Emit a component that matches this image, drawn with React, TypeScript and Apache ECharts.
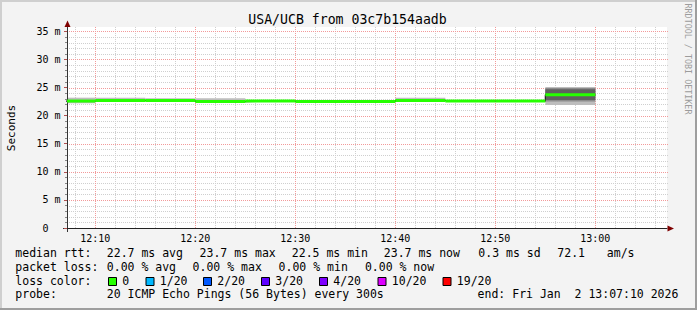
import React, { useEffect, useRef } from 'react';
import * as echarts from 'echarts';

const FONT = '"DejaVu Sans Mono", "Liberation Mono", monospace';

// ---- texts ----
const titleText = 'USA/UCB from 03c7b154aadb';
const yAxisTitle = 'Seconds';
const watermarkText = 'RRDTOOL / TOBI OETIKER';

// ---- axes ----
const xRange = ['12:07:10', '13:07:10'];
const xMajorTicks = ['12:10', '12:20', '12:30', '12:40', '12:50', '13:00'];
const yMajorTicks = [0, 5, 10, 15, 20, 25, 30, 35];
const yMax = 35.78;

// ---- data (5 minute steps, value held for the interval starting at the time) ----
const intervalStarts = ['12:05', '12:10', '12:15', '12:20', '12:25', '12:30', '12:35', '12:40', '12:45', '12:50', '12:55'];
const intervalEnd = '13:00';
const medianRtt = [22.6, 22.7, 22.7, 22.5, 22.6, 22.5, 22.5, 22.7, 22.6, 22.6, 23.7];
const smokeOuterLo = [22.2, 22.6, 22.6, 22.6, 22.5, 22.5, 22.5, 22.6, 22.5, 22.5, 21.9];
const smokeOuterHi = [23.2, 23.2, 23.1, 23.1, 22.8, 22.8, 22.8, 23.2, 22.8, 22.8, 25.1];
const smokeMidLo = [null, null, null, null, null, null, null, null, null, null, 22.5];
const smokeMidHi = [null, null, null, null, null, null, null, null, null, null, 24.9];
const smokeInnerLo = [null, null, null, null, null, null, null, null, null, null, 22.8];
const smokeInnerHi = [null, null, null, null, null, null, null, null, null, null, 24.7];

// ---- legend ----
const rttStats = ['22.7 ms avg', '23.7 ms max', '22.5 ms min', '23.7 ms now', '0.3 ms sd', '72.1', 'am/s'];
const lossStats = ['0.00 % avg', '0.00 % max', '0.00 % min', '0.00 % now'];
const lossLabels = ['0', '1/20', '2/20', '3/20', '4/20', '10/20', '19/20'];
const lossColors = ['#26ff00', '#00b8ff', '#0059ff', '#5e00ff', '#7e00ff', '#dd00ff', '#ff0000'];
const probeText = '20 ICMP Echo Pings (56 Bytes) every 300s';
const endText = 'end: Fri Jan\u00a0\u00a02 13:07:10 2026';

// layout positions for legend items
const rttX = [107.5, 200.3, 292.5, 384.5, 479, 558, 607.5];
const lossX = [107.5, 193.3, 279.3, 365.6];
const boxX = [108, 145.5, 203, 261, 319, 377.5, 442.5];

const toMin = (s: string) => {
  const p = s.split(':').map(Number);
  return p[0] * 60 + p[1] + (p[2] || 0) / 60;
};
const fmtMin = (v: number) => {
  const h = Math.floor(v / 60);
  const m = Math.round(v - h * 60);
  return `${String(h).padStart(2, '0')}:${String(m).padStart(2, '0')}`;
};

const xMin = toMin(xRange[0]);
const xMax = toMin(xRange[1]);
const xMajorVals = xMajorTicks.map(toMin);
const xMinorVals: number[] = [];
for (let t = Math.ceil(xMin / 2) * 2; t <= xMax; t += 2) {
  if (t % 10 !== 0) xMinorVals.push(t);
}
const yMinorVals: number[] = [];
for (let v = 1; v <= 35; v++) if (v % 5 !== 0) yMinorVals.push(v);

const STEP = 5;
const MAJOR_COLOR = '#f29a9a';
const MINOR_COLOR = '#cfcfcf';

// grid lines drawn through the axis scales
function gridLines(vals: number[], dir: 'h' | 'v', color: string, z: number) {
  return {
    type: 'custom',
    coordinateSystem: 'cartesian2d',
    silent: true,
    z,
    encode: { x: 0, y: 1 },
    data: vals.map((v) => (dir === 'h' ? [xMin, v] : [v, 0])),
    renderItem: (params: any, api: any) => {
      const p = api.coord([api.value(0), api.value(1)]);
      const cs = params.coordSys;
      if (dir === 'h') {
        const y = Math.round(p[1]) + 0.5;
        return {
          type: 'line',
          shape: { x1: cs.x, y1: y, x2: cs.x + cs.width + 1, y2: y },
          style: { stroke: color, lineWidth: 1, lineDash: [1, 1] },
        };
      }
      const x = Math.floor(p[0]) + 0.5;
      return {
        type: 'line',
        shape: { x1: x, y1: cs.y, x2: x, y2: cs.y + cs.height },
        style: { stroke: color, lineWidth: 1, lineDash: [1, 1] },
      };
    },
  };
}

function bandSeries(lo: (number | null)[], hi: (number | null)[], color: string, z: number) {
  const data = intervalStarts
    .map((s, i) => (lo[i] == null || hi[i] == null ? null : [toMin(s), toMin(s) + STEP, lo[i], hi[i]]))
    .filter((d) => d !== null);
  return {
    type: 'custom',
    coordinateSystem: 'cartesian2d',
    silent: true,
    z,
    encode: { x: [0, 1], y: [2, 3] },
    data,
    renderItem: (params: any, api: any) => {
      const a = api.coord([api.value(0), api.value(3)]);
      const b = api.coord([api.value(1), api.value(2)]);
      const cs = params.coordSys;
      const x0 = Math.max(a[0], cs.x);
      const x1 = Math.min(b[0], cs.x + cs.width);
      if (x1 <= x0) return null;
      return {
        type: 'rect',
        shape: { x: x0, y: a[1], width: x1 - x0, height: b[1] - a[1] },
        style: { fill: color },
      };
    },
  };
}

const medianBand = {
  type: 'custom',
  coordinateSystem: 'cartesian2d',
  silent: true,
  z: 5,
  encode: { x: [0, 1], y: 2 },
  data: intervalStarts.map((s, i) => [toMin(s), toMin(s) + STEP, medianRtt[i]]),
  renderItem: (params: any, api: any) => {
    const a = api.coord([api.value(0), api.value(2)]);
    const b = api.coord([api.value(1), api.value(2)]);
    const cs = params.coordSys;
    const x0 = Math.max(a[0], cs.x);
    const x1 = Math.min(b[0], cs.x + cs.width);
    if (x1 <= x0) return null;
    return {
      type: 'rect',
      shape: { x: x0, y: a[1] - 1.5, width: x1 - x0, height: 3 },
      style: { fill: lossColors[0] },
    };
  },
};

const medianLine = {
  type: 'line',
  step: 'end',
  symbol: 'none',
  silent: true,
  z: 4,
  lineStyle: { color: '#1e1e1e', width: 1.2 },
  data: intervalStarts
    .map((s, i) => [toMin(s), medianRtt[i]])
    .concat([[toMin(intervalEnd), medianRtt[medianRtt.length - 1]]]),
};

const txt = (text: string, x: number, y: number, size: number, extra: any = {}) => ({
  type: 'text',
  x,
  y,
  silent: true,
  ...extra,
  style: {
    text,
    fill: extra.fill || '#000',
    font: `${size}px ${FONT}`,
    textAlign: extra.align || 'left',
    textVerticalAlign: 'middle',
    align: extra.align || 'left',
    verticalAlign: 'middle',
  },
});

const LX = -0.7; // glyph bearing offset
const rowY = [253.4, 266.9, 281.0, 294.4];

const graphics: any[] = [
  // frame shading
  { type: 'rect', shape: { x: 0, y: 0, width: 697, height: 2 }, style: { fill: '#cfcfcf' }, silent: true },
  { type: 'rect', shape: { x: 0, y: 0, width: 2, height: 310 }, style: { fill: '#cfcfcf' }, silent: true },
  { type: 'rect', shape: { x: 0, y: 308, width: 697, height: 2 }, style: { fill: '#9e9e9e' }, silent: true },
  { type: 'rect', shape: { x: 695, y: 0, width: 2, height: 310 }, style: { fill: '#9e9e9e' }, silent: true },
  // axis arrows and extensions
  { type: 'polygon', shape: { points: [[67.5, 20.5], [64.5, 27], [70.5, 27]] }, style: { fill: '#7f0000' }, silent: true, z: 10 },
  { type: 'polygon', shape: { points: [[674, 228.5], [667.5, 225.5], [667.5, 231.5]] }, style: { fill: '#7f0000' }, silent: true, z: 10 },
  { type: 'line', shape: { x1: 63, y1: 228.5, x2: 67, y2: 228.5 }, style: { stroke: '#333', lineWidth: 1 }, silent: true },
  { type: 'line', shape: { x1: 67.5, y1: 228, x2: 67.5, y2: 232 }, style: { stroke: '#333', lineWidth: 1 }, silent: true },
  // title etc.
  txt(titleText, 347.5, 19.7, 13.2, { align: 'center' }),
  txt(yAxisTitle, 11, 128, 11, { align: 'center', rotation: Math.PI / 2 }),
  txt(watermarkText, 688, 59, 8.4, { align: 'center', rotation: -Math.PI / 2, fill: '#9c9c9c' }),
  // legend rows
  txt('median rtt:', 16 + LX, rowY[0], 11.5),
  ...rttStats.map((s, i) => txt(s, rttX[i] + LX, rowY[0], 11.5)),
  txt('packet loss:', 16 + LX, rowY[1], 11.5),
  ...lossStats.map((s, i) => txt(s, lossX[i] + LX, rowY[1], 11.5)),
  txt('loss color:', 16 + LX, rowY[2], 11.5),
  ...lossColors.map((c, i) => ({
    type: 'rect',
    silent: true,
    shape: { x: boxX[i] + 0.5, y: 277.5, width: 8, height: 8 },
    style: { fill: c, stroke: '#000', lineWidth: 1 },
  })),
  ...lossLabels.map((s, i) => txt(s, boxX[i] + 15 + LX, rowY[2], 11.5)),
  txt('probe:', 16 + LX, rowY[3], 11.5),
  txt(probeText, 107.5 + LX, rowY[3], 11.5),
  txt(endText, 478.3 + LX, rowY[3], 11.5),
];

const option: any = {
  animation: false,
  backgroundColor: '#f3f3f3',
  grid: {
    left: 67,
    top: 27,
    width: 600,
    height: 201,
    show: true,
    backgroundColor: '#ffffff',
    borderWidth: 0,
    containLabel: false,
    outerBoundsMode: 'none',
  },
  xAxis: {
    type: 'value',
    min: xMin,
    max: xMax,
    position: 'bottom',
    axisLine: { show: true, lineStyle: { color: '#222', width: 1 } },
    axisTick: { show: false, customValues: xMajorVals },
    axisLabel: {
      customValues: xMajorVals,
      formatter: (v: number) => fmtMin(v),
      fontFamily: FONT,
      fontSize: 10,
      color: '#000',
      margin: 5,
    },
    splitLine: { show: false },
    z: 3,
  },
  yAxis: [
    {
      type: 'value',
      min: 0,
      max: yMax,
      position: 'left',
      axisLine: { show: true, lineStyle: { color: '#333', width: 1 } },
      axisTick: { show: true, length: 3, customValues: yMajorTicks, lineStyle: { color: '#b05050' } },
      axisLabel: {
        customValues: yMajorTicks,
        formatter: (v: number) => (v === 0 ? '0\u00a0\u00a0' : `${v} m`),
        fontFamily: FONT,
        fontSize: 10,
        color: '#000',
        margin: 6.5,
      },
      splitLine: { show: false },
      z: 3,
    },
    {
      type: 'value',
      min: 0,
      max: yMax,
      position: 'left',
      axisLine: { show: false },
      axisTick: { show: true, length: 2, customValues: yMinorVals, lineStyle: { color: '#888' } },
      axisLabel: { show: false, customValues: yMinorVals },
      splitLine: { show: false },
    },
  ],
  series: [
    gridLines(yMinorVals, 'h', MINOR_COLOR, 0),
    gridLines(xMinorVals, 'v', MINOR_COLOR, 0),
    gridLines(yMajorTicks.filter((v) => v > 0), 'h', MAJOR_COLOR, 1),
    gridLines(xMajorVals, 'v', MAJOR_COLOR, 1),
    bandSeries(smokeOuterLo, smokeOuterHi, '#bdbdbd', 2),
    bandSeries(smokeMidLo, smokeMidHi, '#8c8c8c', 3),
    bandSeries(smokeInnerLo, smokeInnerHi, '#606060', 3),
    medianLine,
    medianBand,
  ],
  graphic: { elements: graphics },
};

export default function App() {
  const ref = useRef<HTMLDivElement>(null);
  useEffect(() => {
    if (!ref.current) return;
    const chart = echarts.init(ref.current, null, { renderer: 'svg', width: 697, height: 310 });
    chart.setOption(option);
    return () => chart.dispose();
  }, []);
  return (
    <div
      ref={ref}
      style={{ position: 'absolute', left: 0, top: 0, width: 697, height: 310 }}
    />
  );
}
